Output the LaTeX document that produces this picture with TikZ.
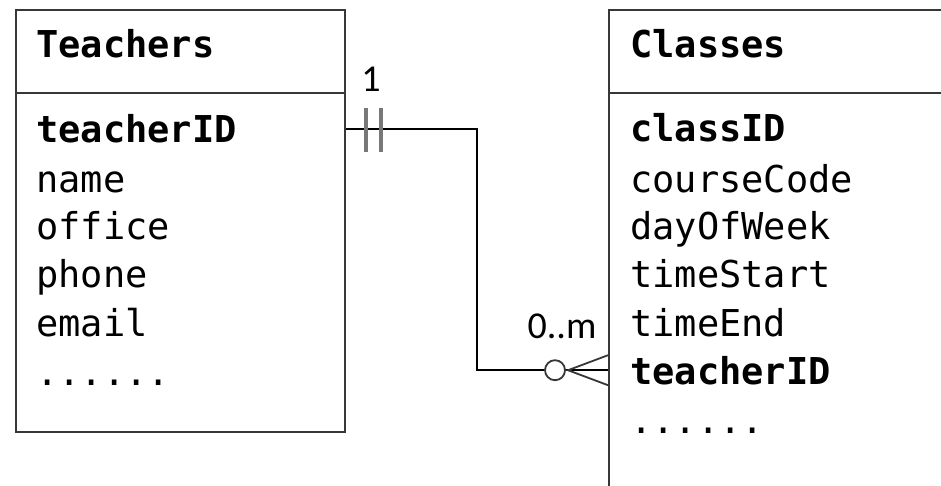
\documentclass[tikz,border=0pt]{standalone}
\usepackage{fontspec}
\setmonofont{DejaVu Sans Mono}
\newfontfamily\cardfamily{Carlito}
\usetikzlibrary{positioning}
\usepackage{xcolor}
\definecolor{boxColor}{RGB}{55,55,55}
\definecolor{barColor}{RGB}{120,120,120}
\newcommand{\erfont}{\fontsize{37}{44}\selectfont\ttfamily}
\newcommand{\cardfont}{\fontsize{38}{44}\selectfont\cardfamily}

\begin{document}
\begin{tikzpicture}[x=1pt, y=-1pt,
    entity/.style={draw=boxColor, line width=2pt, anchor=north west, inner sep=0pt},
    attr/.style={anchor=base west, inner sep=0pt, font=\erfont},
    keyattr/.style={anchor=base west, inner sep=0pt, font=\erfont\bfseries},
    conn/.style={line width=2pt, black},
    bar/.style={line width=3.5pt, barColor},
    prong/.style={line width=1.8pt, boxColor},
    card/.style={anchor=base, inner sep=0pt, font=\cardfont}
  ]
  \useasboundingbox (0,0) rectangle (941,486);
  \fill[white] (0,0) rectangle (941,486);
  \clip (0,0) rectangle (941,486);

  % Teachers entity
  \node[entity, minimum width=329pt, minimum height=83pt] (teachersHead) at (15,9) {};
  \node[entity, minimum width=329pt, minimum height=339pt] (teachersBody) at (15,92) {};
  \node[keyattr] (teachersName) at (36,58) {Teachers};
  \node[keyattr] (tKey) at (36,143) {teacherID};
  \foreach \txt/\yy [count=\i] in {name/193, office/240, phone/287, email/336}
    \node[attr] (tAttr\i) at (36,\yy) {\txt};
  \node[attr] (tMore) at (36,385) {......};

  % Classes entity
  \node[entity, minimum width=360pt, minimum height=83pt] (classesHead) at (608,9) {};
  \node[entity, minimum width=360pt, minimum height=430pt] (classesBody) at (608,92) {};
  \node[keyattr] (classesName) at (630,58) {Classes};
  \node[keyattr] (cKey) at (630,142) {classID};
  \foreach \txt/\yy [count=\i] in {courseCode/193, dayOfWeek/240, timeStart/287, timeEnd/336}
    \node[attr] (cAttr\i) at (630,\yy) {\txt};
  \node[keyattr] (cFKey) at (630,384) {teacherID};
  \node[attr] (cMore) at (630,433) {......};

  % relationship
  \coordinate (tEnd) at (teachersBody.east |- tKey.center);
  \coordinate (cEnd) at (classesBody.west |- cFKey.center);
  \draw[conn] (tEnd) -- ++(131,0) |- (cEnd);
  \draw[bar] (tEnd) ++(20,-21) -- ++(0,44);
  \draw[bar] (tEnd) ++(35,-21) -- ++(0,44);
  \draw[prong, fill=white] (cEnd) ++(-53,0) circle (10pt);
  \draw[prong] ([yshift=15pt]cEnd) -- ([xshift=-40pt]cEnd) -- ([yshift=-15pt]cEnd);
  \node[card] (oneLabel) at (371,92) {1};
  \node[card] (manyLabel) at (562,338) {0..m};
\end{tikzpicture}
\end{document}
